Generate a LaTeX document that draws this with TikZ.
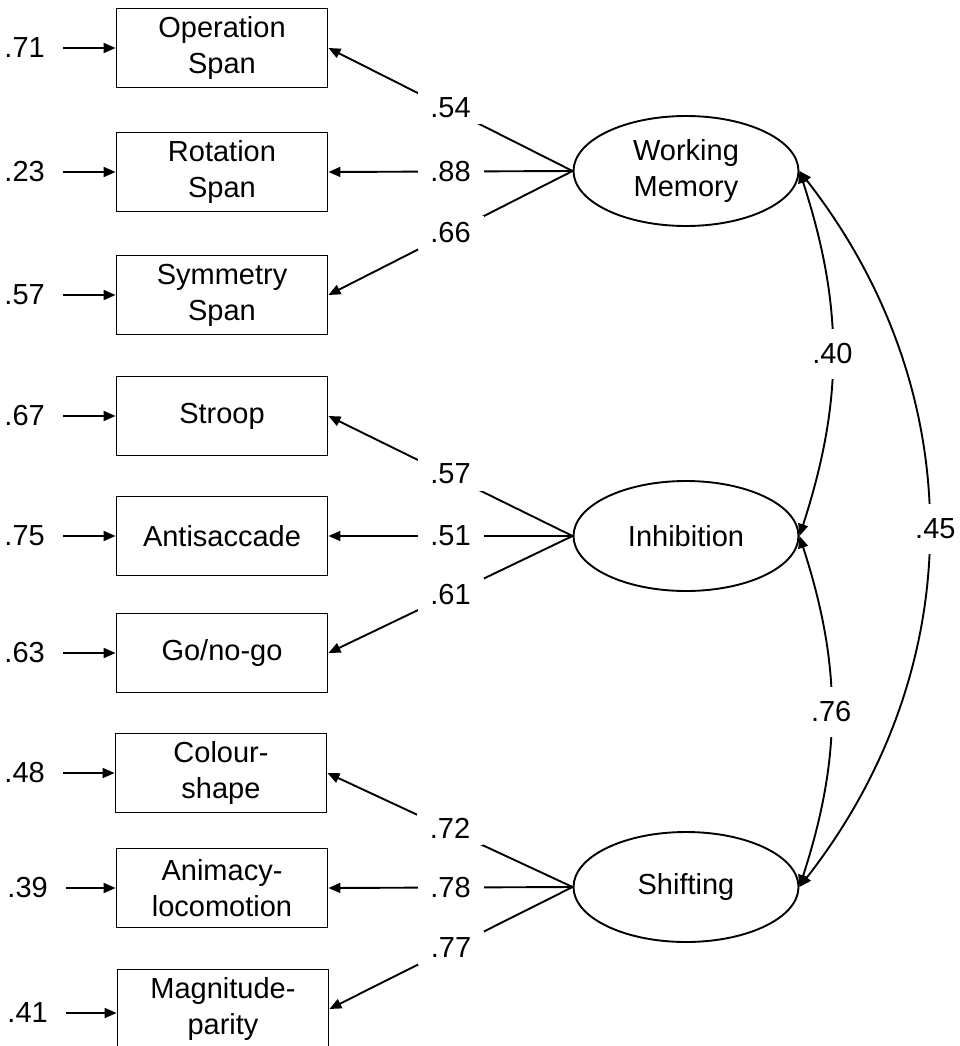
\documentclass[tikz,border=0pt]{standalone}
\usepackage{fontspec}
\setmainfont{Liberation Sans}
\usetikzlibrary{arrows.meta,shapes.geometric}
\begin{document}
\begin{tikzpicture}[x=1pt,y=-1pt,
  every node/.style={font=\fontsize{29}{36}\selectfont},
  conn/.style={line width=1.9pt},
  tip/.style={conn,-{Triangle[length=12pt,width=10pt]}},
  dtip/.style={conn,{Triangle[length=12pt,width=10pt]}-{Triangle[length=12pt,width=10pt]}},
  obs/.style={draw,line width=1.9pt,minimum width=211pt,minimum height=79pt,inner sep=0pt,align=center},
  lat/.style={draw,ellipse,line width=1.9pt,minimum width=225pt,minimum height=110pt,inner sep=0pt,align=center},
  err/.style={anchor=east,inner xsep=18pt,inner ysep=0pt},
  lbl/.style={fill=white,minimum width=66pt,minimum height=34pt,inner sep=0pt},
  clbl/.style={fill=white,minimum width=40pt,minimum height=50pt,inner sep=0pt}]
\useasboundingbox (0,0) rectangle (960,1046);

% latent factors
\node[lat] (wm) at (686,171) {Working\\Memory};
\node[lat] (inh) at (686,536) {Inhibition};
\node[lat] (sh) at (686,887) {Shifting};

% observed
\node[obs] (o1) at (222,48) {Operation\\Span};
\node[obs] (o2) at (222,172) {Rotation\\Span};
\node[obs] (o3) at (222,295) {Symmetry\\Span};
\node[obs] (o4) at (222,416) {Stroop};
\node[obs] (o5) at (222,536) {Antisaccade};
\node[obs] (o6) at (222,653) {Go/no-go};
\node[obs] (o7) at (221,773) {Colour-\\shape};
\node[obs] (o8) at (222,888) {Animacy-\\locomotion};
\node[obs] (o9) at (223,1009) {Magnitude-\\parity};

% errors
\node[err] (e1) at (63,48) {.71};
\node[err] (e2) at (63,172) {.23};
\node[err] (e3) at (63,295) {.57};
\node[err] (e4) at (63,416) {.67};
\node[err] (e5) at (63,536) {.75};
\node[err] (e6) at (63,653) {.63};
\node[err] (e7) at (63,773) {.48};
\node[err] (e8) at (66,888) {.39};
\node[err] (e9) at (66,1013) {.41};

\foreach \i in {1,...,9} {\draw[tip] (e\i.east) -- (o\i.west |- e\i.east);}

% loadings
\draw[tip] (wm.west) -- node[lbl,yshift=2pt]{.54} (o1.east);
\draw[tip] (wm.west) -- node[lbl]{.88} (o2.east);
\draw[tip] (wm.west) -- node[lbl]{.66} (o3.east);
\draw[tip] (inh.west) -- node[lbl,yshift=2pt]{.57} (o4.east);
\draw[tip] (inh.west) -- node[lbl]{.51} (o5.east);
\draw[tip] (inh.west) -- node[lbl]{.61} (o6.east);
\draw[tip] (sh.west) -- node[lbl,yshift=2pt]{.72} (o7.east);
\draw[tip] (sh.west) -- node[lbl]{.78} (o8.east);
\draw[tip] (sh.west) -- node[lbl]{.77} (o9.east);

% covariances
\draw[dtip] (wm.east) to[out=-72,in=72] node[clbl]{.40} (inh.east);
\draw[dtip] (inh.east) to[out=-72,in=72] node[clbl]{.76} (sh.east);
\draw[dtip] (wm.east) to[out=-52,in=52] node[clbl,xshift=7pt]{.45} (sh.east);
\end{tikzpicture}
\end{document}
